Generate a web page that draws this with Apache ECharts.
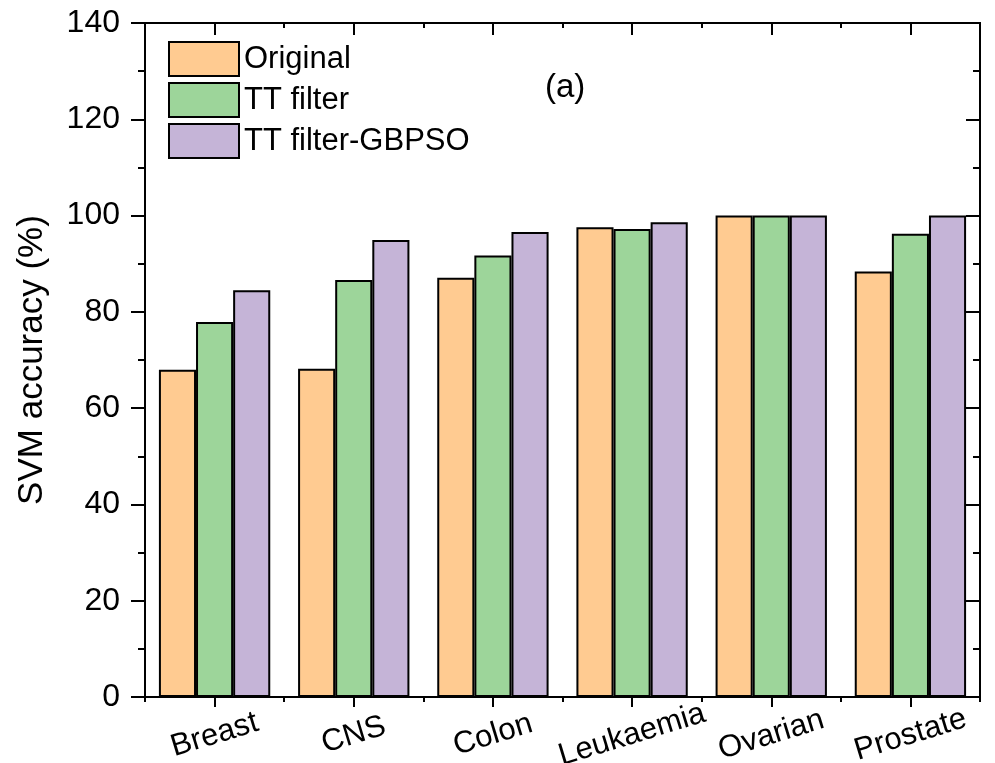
<!DOCTYPE html>
<html>
<head>
<meta charset="utf-8">
<script src="https://cdn.jsdelivr.net/npm/echarts@6/dist/echarts.min.js"></script>
<style>
  html, body { margin: 0; padding: 0; background: #fff; }
  #main { width: 995px; height: 763px; }
</style>
</head>
<body>
<div id="main"></div>
<script>
// Datos
var categories = ['Breast', 'CNS', 'Colon', 'Leukaemia', 'Ovarian', 'Prostate'];
var seriesNames = ['Original', 'TT filter', 'TT filter-GBPSO'];
var original = [68.0, 68.2, 87.1, 97.6, 100, 88.4];
var ttFilter = [77.9, 86.6, 91.7, 97.2, 100, 96.2];
var ttGbpso = [84.5, 94.9, 96.6, 98.6, 100, 100];
var colors = ['#FFCB91', '#9DD59A', '#C5B4D7'];

var chartDom = document.getElementById('main');
var myChart = echarts.init(chartDom);
var font = 'Arial, "Liberation Sans", sans-serif';

var lineStyle = { color: '#000', width: 2 };

function xAxisBase(pos, inside, align, len) {
  return {
    type: 'category',
    position: pos,
    data: categories,
    axisLine: { show: true, lineStyle: lineStyle },
    axisTick: { show: true, inside: inside, alignWithLabel: align, length: len, lineStyle: lineStyle },
    axisLabel: { show: false },
    splitLine: { show: false }
  };
}

var xMain = xAxisBase('bottom', false, true, 10);
xMain.axisLabel = {
  show: true,
  interval: 0,
  hideOverlap: false,
  rotate: 17,
  align: 'center',
  verticalAlign: 'middle',
  margin: 38,
  fontSize: 31,
  fontFamily: font,
  color: '#000'
};

function yAxisBase(pos, inside, showLabel) {
  return {
    type: 'value',
    position: pos,
    min: 0,
    max: 140,
    interval: 20,
    axisLine: { show: true, lineStyle: lineStyle },
    axisTick: { show: true, inside: inside, length: 14, lineStyle: lineStyle },
    minorTick: { show: true, splitNumber: 2, length: 7, lineStyle: { color: '#000', width: 2 } },
    axisLabel: { show: showLabel, margin: 25, fontSize: 32, fontFamily: font, color: '#000' },
    splitLine: { show: false },
    minorSplitLine: { show: false }
  };
}

var yLeft = yAxisBase('left', false, true);
yLeft.name = 'SVM accuracy (%)';
yLeft.nameLocation = 'middle';
yLeft.nameGap = 95;
yLeft.nameTextStyle = { fontSize: 35, fontFamily: font, color: '#000' };

var yRight = yAxisBase('right', true, false);

function barSeries(name, data, color) {
  return {
    name: name,
    type: 'bar',
    xAxisIndex: 0,
    yAxisIndex: 0,
    data: data,
    barGap: '0%',
    barCategoryGap: '20%',
    itemStyle: { color: color, borderColor: '#000', borderWidth: 2 }
  };
}

var option = {
  animation: false,
  textStyle: { fontFamily: font },
  grid: { left: 145, right: 15, top: 23, bottom: 66, containLabel: false, outerBoundsMode: 'none' },
  legend: {
    orient: 'vertical',
    left: 168,
    top: 41,
    padding: 0,
    itemWidth: 70,
    itemHeight: 34,
    itemGap: 5,
    itemTextGap: 10,
    icon: 'rect',
    data: seriesNames,
    textStyle: { fontSize: 31, fontFamily: font, color: '#000' }
  },
  graphic: [{
    type: 'text',
    left: 545,
    top: 71,
    style: { text: '(a)', fontSize: 33, fontFamily: font, fill: '#000' }
  }],
  xAxis: [
    xMain,
    xAxisBase('bottom', false, false, 5),
    xAxisBase('top', true, true, 12),
    xAxisBase('top', true, false, 5)
  ],
  yAxis: [yLeft, yRight],
  series: [
    barSeries(seriesNames[0], original, colors[0]),
    barSeries(seriesNames[1], ttFilter, colors[1]),
    barSeries(seriesNames[2], ttGbpso, colors[2])
  ]
};

option && myChart.setOption(option);
</script>
</body>
</html>
